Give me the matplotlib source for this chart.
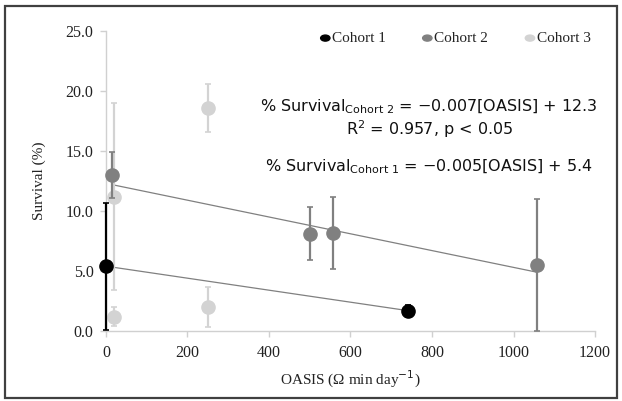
import matplotlib
matplotlib.use("Agg")
import matplotlib.pyplot as plt
from matplotlib.patches import Rectangle

# data
c1_x = [0, 740]
c1_y = [5.4, 1.7]
c1_err = [5.3, 0.5]

c2_x = [15, 500, 558, 1058]
c2_y = [13.0, 8.1, 8.2, 5.5]
c2_err = [1.9, 2.2, 3.0, 5.5]

c3_x = [20, 20, 250, 250]
c3_y = [11.2, 1.2, 18.6, 2.0]
c3_err = [7.8, 0.8, 2.0, 1.7]

# trendlines (slope, intercept, x range)
fit1 = (-0.005, 5.4, [0, 740])
fit2 = (-0.007, 12.3, [15, 1058])

xticks = [0, 200, 400, 600, 800, 1000, 1200]
yticks = [0, 5, 10, 15, 20, 25]

col1, col2, col3 = "#000000", "#808080", "#d3d3d3"

plt.rcParams['font.family'] = ['Liberation Serif', 'DejaVu Serif']
plt.rcParams['mathtext.fontset'] = 'custom'
plt.rcParams['mathtext.rm'] = 'DejaVu Sans'
plt.rcParams['mathtext.it'] = 'DejaVu Sans'

fig = plt.figure(figsize=(6.22, 4.01), dpi=100)
ax = fig.add_axes([0.1704, 0.1746, 0.7862, 0.7481])

# frame around the whole figure
fig.patches.append(Rectangle((0.008, 0.008), 0.984, 0.978, transform=fig.transFigure,
                             fill=False, edgecolor="#404040", linewidth=1.6))

for slope, icpt, xr in (fit1, fit2):
    ax.plot(xr, [icpt + slope * v for v in xr], color="#808080", linewidth=0.9, zorder=2)

ms = 9.5
ax.errorbar(c3_x, c3_y, yerr=c3_err, fmt='o', color=col3, ecolor=col3, markersize=ms,
            elinewidth=1.6, capsize=2, capthick=1.2, zorder=3, clip_on=False)
ax.errorbar(c2_x, c2_y, yerr=c2_err, fmt='o', color=col2, ecolor=col2, markersize=ms,
            elinewidth=1.6, capsize=2, capthick=1.2, zorder=4, clip_on=False)
ax.errorbar(c1_x, c1_y, yerr=c1_err, fmt='o', color=col1, ecolor=col1, markersize=ms,
            elinewidth=1.6, capsize=2, capthick=1.2, zorder=5, clip_on=False)

ax.set_xlim(0, 1200)
ax.set_ylim(0, 25)
ax.set_xticks(xticks)
ax.set_yticks(yticks)
ax.set_yticklabels(["%.1f" % v for v in yticks])
for s in ("top", "right"):
    ax.spines[s].set_visible(False)
for s in ("left", "bottom"):
    ax.spines[s].set_color("#d0d0d0")
    ax.spines[s].set_linewidth(1.0)
ax.tick_params(axis='both', colors="#d0d0d0", labelcolor="#222222", labelsize=11.5,
               length=4, width=1.0)
ax.tick_params(axis='x', pad=6)
ax.tick_params(axis='y', pad=5)

ax.set_xlabel("OASIS (Ω min day$^{-1}$)", fontsize=11, color="#222222", labelpad=6)
ax.set_ylabel("Survival (%)", fontsize=11, color="#222222", labelpad=14)

# legend along the top
for xl, c, lab in ((0.534, col1, "Cohort 1"), (0.698, col2, "Cohort 2"), (0.863, col3, "Cohort 3")):
    fig.text(xl, 0.905, lab, fontsize=11, color="#222222", va='center', ha='left')
    fig.patches.append(plt.Circle((xl - 0.011, 0.905), 0.0075, transform=fig.transFigure,
                                  color=c))

fig.text(0.69, 0.733, r"% Survival$_{\mathrm{Cohort\ 2}}$ = −0.007[OASIS] + 12.3",
         fontsize=11.5, family='DejaVu Sans', ha='center', va='center', color="#111111")
fig.text(0.69, 0.678, r"R$^{2}$ = 0.957, p < 0.05",
         fontsize=11.5, family='DejaVu Sans', ha='center', va='center', color="#111111")
fig.text(0.69, 0.585, r"% Survival$_{\mathrm{Cohort\ 1}}$ = −0.005[OASIS] + 5.4",
         fontsize=11.5, family='DejaVu Sans', ha='center', va='center', color="#111111")

fig.savefig("out.png", dpi=100)
